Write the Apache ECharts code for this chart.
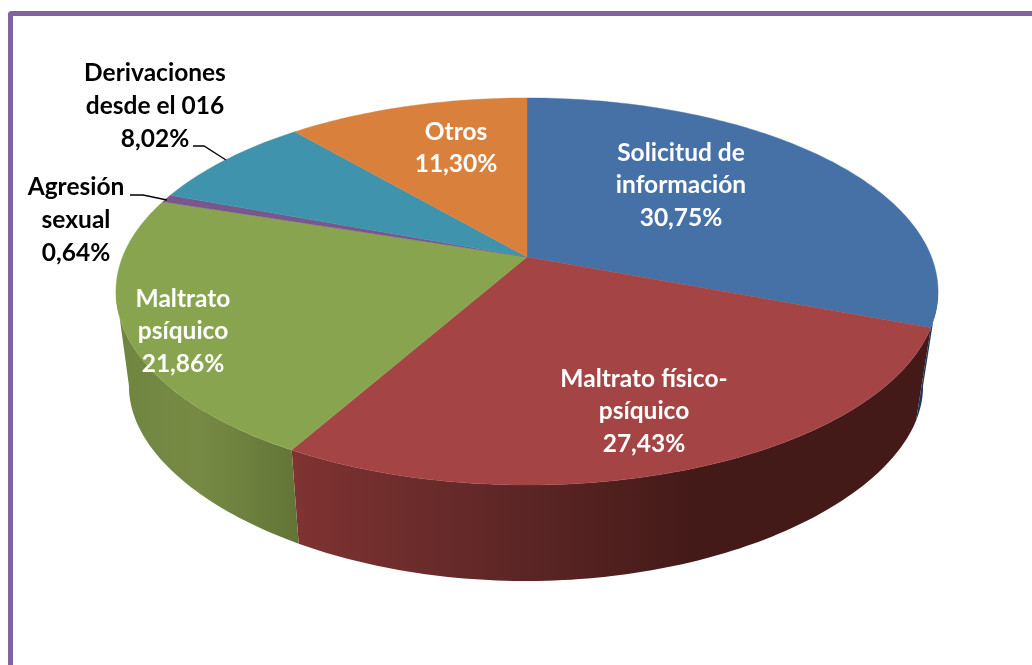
<!DOCTYPE html>
<html>
<head>
<meta charset="utf-8">
<style>html,body{margin:0;padding:0;background:#fff}#c{width:1032px;height:665px}</style>
<script src="https://cdn.jsdelivr.net/npm/echarts@6/dist/echarts.min.js"></script>
</head>
<body>
<div id="c"></div>
<script>
var categories = ['Solicitud de\ninformación', 'Maltrato físico-\npsíquico', 'Maltrato\npsíquico', 'Agresión\nsexual', 'Derivaciones\ndesde el 016', 'Otros'];
var shares = [30.75, 27.43, 21.86, 0.64, 8.02, 11.30];
var topColors = ['#4671A7', '#A54444', '#88A44E', '#78578C', '#3F93AC', '#D9813C'];
var labelColors = ['#fff', '#fff', '#fff', '#000', '#000', '#fff'];

// Geometry of the tilted disc (perspective projection of a circle)
var TOP = {cx: 527, cy: 257, bx: 404.5, ay: 187.4, px: 0.178, py: 0.178};
var BOTTOM = {cx: 526, cy: 355, bx: 390.7, ay: 169.5, px: 0.178, py: 0.25};
var labelAnchors = [[681, 185.5], [644, 411.5], [183, 331.5], [76, 220], [155, 106], [456, 148]];
var leaders = {3: [[130, 195], [143, 195], [167, 200]], 4: [[193, 146], [204, 146], [226, 160]]};
var wallStops = [
  [[0, '#1c3a5e'], [1, '#1c3a5e']],
  [[0, '#803332'], [0.5, '#602727'], [1, '#431a18']],
  [[0, '#6f8640'], [0.45, '#778a44'], [1, '#627537']],
  [[0, '#5a4168'], [1, '#5a4168']],
  [[0, '#2f6f82'], [1, '#2f6f82']],
  [[0, '#a36130'], [1, '#a36130']]
];
var wallRanges = [[80, 111], [290, 700], [116, 298], [0, 1], [0, 1], [0, 1]];

function project(g, deg) {
  var t = deg * Math.PI / 180, s = Math.sin(t), c = Math.cos(t);
  return [g.cx + g.bx * s / (1 + g.px * c), g.cy - g.ay * c / (1 + g.py * c)];
}
function sliceAngles(i) {
  var start = 0;
  for (var k = 0; k < i; k++) start += shares[k];
  return [start * 3.6, (start + shares[i]) * 3.6];
}
function arc(g, a0, a1) {
  var pts = [], n = Math.max(2, Math.ceil(Math.abs(a1 - a0)));
  for (var k = 0; k <= n; k++) pts.push(project(g, a0 + (a1 - a0) * k / n));
  return pts;
}
function formatShare(v) { return v.toFixed(2).replace('.', ',') + '%'; }

var seriesData = categories.map(function (name, i) { return {name: name, value: [i, shares[i]]}; });

var option = {
  animation: false,
  backgroundColor: '#fff',
  graphic: [{
    type: 'rect', silent: true,
    shape: {x: 10.5, y: 13.5, width: 1200, height: 900, r: 1},
    style: {fill: 'none', stroke: '#8064A2', lineWidth: 5}
  }],
  series: [{
    type: 'custom', coordinateSystem: 'none', z: 1, silent: true, data: seriesData,
    renderItem: function (params, api) {
      var i = api.value(0), a = sliceAngles(i);
      var a0 = Math.max(a[0], 100), a1 = Math.min(a[1], 260);
      if (a1 <= a0) return {type: 'group', children: []};
      var upper = arc(TOP, a0, a1), lower = arc(BOTTOM, a0, a1).reverse();
      var r = wallRanges[i];
      var fill = new echarts.graphic.LinearGradient(r[0], 0, r[1], 0,
        wallStops[i].map(function (s) { return {offset: s[0], color: s[1]}; }), true);
      return {type: 'polygon', shape: {points: upper.concat(lower)}, style: {fill: fill}};
    }
  }, {
    type: 'custom', coordinateSystem: 'none', z: 2, silent: true, data: seriesData,
    renderItem: function (params, api) {
      var i = api.value(0), a = sliceAngles(i);
      var pts = [[TOP.cx, TOP.cy]].concat(arc(TOP, a[0], a[1]));
      return {type: 'polygon', shape: {points: pts},
        style: {fill: topColors[i], stroke: topColors[i], lineWidth: 0.4}};
    }
  }, {
    type: 'custom', coordinateSystem: 'none', z: 3, silent: true, data: seriesData,
    renderItem: function (params, api) {
      var i = api.value(0), kids = [];
      if (leaders[i]) kids.push({type: 'polyline', shape: {points: leaders[i]},
        style: {fill: 'none', stroke: '#000', lineWidth: 1.3}});
      kids.push({type: 'text', x: labelAnchors[i][0], y: labelAnchors[i][1], style: {
        text: categories[i] + '\n' + formatShare(api.value(1)),
        fill: labelColors[i], font: 'bold 24.5px Lato', lineHeight: 32.7,
        align: 'center', verticalAlign: 'middle'}});
      return {type: 'group', children: kids};
    }
  }]
};
echarts.init(document.getElementById('c'), null, {renderer: 'canvas'}).setOption(option);
</script>
</body>
</html>
